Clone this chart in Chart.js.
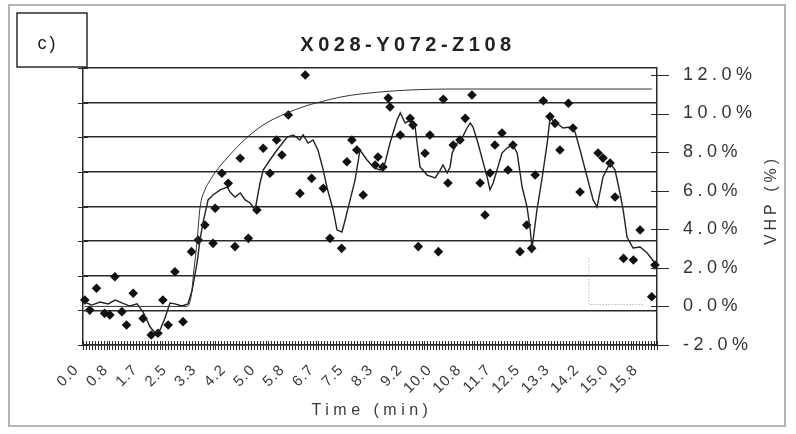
<!DOCTYPE html>
<html>
<head>
<meta charset="utf-8">
<script src="https://cdn.jsdelivr.net/npm/chart.js@4.4.1/dist/chart.umd.min.js"></script>
<style>
  html, body { margin: 0; padding: 0; background: #fff; }
  #wrap { position: relative; width: 796px; height: 434px; }
</style>
</head>
<body>
<div id="wrap"><canvas id="chart"></canvas></div>
<script>
// time axis: one category every 5 s, labels every 10th category
const SAMPLE_MIN = 5 / 60;
const SAMPLE_COUNT = 195;
const LABEL_EVERY = 10;
const xTickLabels = ['0.0','0.8','1.7','2.5','3.3','4.2','5.0','5.8','6.7','7.5',
  '8.3','9.2','10.0','10.8','11.7','12.5','13.3','14.2','15.0','15.8'];
const rightTickValues = [-2, 0, 2, 4, 6, 8, 10, 12];

// measured VHP (%) points [min, %]
const rawPoints = [
  [0.01,0.33],[0.15,-0.19],[0.34,0.94],[0.57,-0.36],[0.72,-0.44],[0.86,1.54],[1.06,-0.27],[1.19,-0.96],
  [1.38,0.68],[1.66,-0.62],[1.89,-1.48],[2.08,-1.39],[2.22,0.33],[2.37,-0.96],[2.56,1.80],[2.79,-0.79],
  [3.03,2.84],[3.22,3.44],[3.41,4.22],[3.64,3.27],[3.70,5.09],[3.89,6.90],[4.07,6.38],[4.26,3.10],
  [4.41,7.68],[4.64,3.53],[4.88,5.00],[5.06,8.20],[5.25,6.90],[5.44,8.63],[5.59,7.85],[5.77,9.92],
  [6.10,5.86],[6.25,12.0],[6.43,6.64],[6.76,6.12],[6.95,3.53],[7.28,3.01],[7.43,7.50],[7.57,8.63],
  [7.71,8.11],[7.89,5.78],[8.23,7.33],[8.31,7.75],[8.45,7.23],[8.60,10.80],[8.65,10.34],[8.94,8.89],
  [9.22,9.75],[9.30,9.40],[9.45,3.10],[9.64,7.94],[9.78,8.89],[10.02,2.84],[10.16,10.74],[10.29,6.40],
  [10.44,8.37],[10.63,8.63],[10.78,9.75],[10.97,10.96],[11.20,6.40],[11.34,4.74],[11.48,6.92],[11.62,8.37],
  [11.82,8.99],[11.99,7.07],[12.13,8.37],[12.33,2.84],[12.52,4.22],[12.66,3.01],[12.76,6.81],[12.99,10.66],
  [13.18,9.84],[13.32,9.49],[13.46,8.11],[13.70,10.53],[13.83,9.25],[14.03,5.93],[14.54,7.95],[14.68,7.69],
  [14.88,7.43],[15.02,5.67],[15.26,2.49],[15.54,2.41],[15.73,3.96],[16.06,0.50],[16.15,2.15]
];

// moving average line [min, %]
const movingAverage = [
  [0.00,0.23],[0.21,0.07],[0.44,0.23],[0.67,0.13],[0.87,0.33],[1.06,0.18],[1.29,0.02],[1.49,0.13],
  [1.66,-0.29],[1.86,-1.07],[2.00,-1.38],[2.14,-1.22],[2.28,-0.60],[2.42,0.18],[2.56,0.13],[2.76,0.02],
  [2.93,0.13],[3.05,0.85],[3.19,2.30],[3.27,3.44],[3.36,4.38],[3.50,5.52],[3.64,5.78],[3.84,6.04],
  [4.04,6.19],[4.12,5.93],[4.26,5.67],[4.41,5.88],[4.55,5.52],[4.69,5.36],[4.83,5.00],[4.97,6.40],
  [5.06,7.07],[5.25,7.59],[5.45,8.11],[5.74,8.78],[5.91,8.89],[6.10,8.63],[6.19,8.89],[6.33,8.47],
  [6.47,8.63],[6.61,8.11],[6.76,7.07],[6.87,6.14],[7.04,5.00],[7.15,3.96],[7.29,3.86],[7.38,4.48],
  [7.52,5.52],[7.66,6.55],[7.80,8.11],[8.00,7.59],[8.17,7.23],[8.37,7.07],[8.51,7.44],[8.65,8.47],
  [8.85,9.66],[8.94,10.03],[9.08,9.51],[9.22,9.66],[9.36,9.30],[9.44,8.11],[9.50,7.23],[9.70,6.81],
  [9.93,6.66],[10.07,7.07],[10.15,7.33],[10.27,6.92],[10.35,7.23],[10.41,7.95],[10.55,8.47],[10.69,8.73],
  [10.83,9.25],[10.92,9.51],[11.00,9.30],[11.14,8.47],[11.29,7.44],[11.40,6.71],[11.48,6.04],[11.57,6.40],
  [11.68,7.07],[11.82,7.95],[11.96,8.21],[12.13,8.37],[12.25,7.95],[12.39,6.19],[12.53,5.15],[12.62,3.96],
  [12.67,3.03],[12.81,5.00],[12.96,6.71],[13.10,8.47],[13.18,9.77],[13.32,9.56],[13.55,9.25],[13.75,9.30],
  [13.89,9.04],[14.03,8.11],[14.23,6.71],[14.40,5.52],[14.51,5.15],[14.68,6.71],[14.88,7.44],[15.02,7.07],
  [15.16,5.88],[15.25,5.00],[15.36,3.60],[15.53,3.03],[15.73,3.08],[15.93,2.77],[16.15,2.25]
];

// fitted response curve [min, %]
const fitCurve = [
  [0.00,0.0],[2.90,0.0],[3.02,0.52],[3.10,1.91],[3.19,3.44],[3.27,5.10],[3.41,6.04],[3.56,6.55],
  [3.75,7.07],[4.04,7.70],[4.32,8.26],[4.63,8.80],[4.97,9.30],[5.34,9.70],[5.74,10.03],[6.19,10.35],
  [6.67,10.60],[7.24,10.85],[7.80,11.01],[8.74,11.17],[9.50,11.24],[10.35,11.27],[16.06,11.27]
];

// faint dotted bracket near the end
const markerBracket = [[14.28,2.5],[14.28,0.1],[15.80,0.1]];

const toXY = arr => arr.map(([x, y]) => ({ x, y }));
const INK = '#2a2a2a';
const FONT = "'Liberation Sans', Arial, sans-serif";

const crossTicks = {
  id: 'crossTicks',
  // wide spacing for the right axis labels, tighter for the time labels (drawn later, z: 1)
  beforeDraw(chart) {
    chart.ctx.letterSpacing = '4.5px';
  },
  afterDatasetsDraw(chart) {
    chart.ctx.letterSpacing = '1px';
  },
  afterDraw(chart) {
    const { ctx, chartArea, scales: { x, y, yLeft } } = chart;
    ctx.save();
    ctx.strokeStyle = INK;
    ctx.lineWidth = 1;
    ctx.beginPath();
    for (let i = 0; i <= SAMPLE_COUNT; i++) {
      const px = Math.round(x.getPixelForValue((i - 0.5) * SAMPLE_MIN)) + 0.5;
      ctx.moveTo(px, chartArea.bottom - 4);
      ctx.lineTo(px, chartArea.bottom + 5);
    }
    for (const v of rightTickValues) {
      const py = Math.round(y.getPixelForValue(v)) + 0.5;
      ctx.moveTo(chartArea.right - 6, py);
      ctx.lineTo(chartArea.right + 12, py);
    }
    for (const t of yLeft.ticks) {
      const py = Math.round(yLeft.getPixelForValue(t.value)) + 0.5;
      ctx.moveTo(chartArea.left - 5, py);
      ctx.lineTo(chartArea.left + 5, py);
    }
    ctx.stroke();

    // outer frame and panel label box
    ctx.strokeStyle = '#b4b4b4';
    ctx.lineWidth = 2;
    ctx.strokeRect(9, 5, 776, 421);
    ctx.strokeStyle = INK;
    ctx.lineWidth = 1.5;
    ctx.strokeRect(17, 13, 70, 54);

    ctx.fillStyle = '#222';
    ctx.textBaseline = 'middle';
    ctx.textAlign = 'center';
    ctx.letterSpacing = '3px';
    ctx.font = `18px ${FONT}`;
    ctx.fillText('c)', 48, 44);

    ctx.letterSpacing = '4.5px';
    ctx.font = `bold 20px ${FONT}`;
    ctx.fillText('X028-Y072-Z108', 408, 45);

    ctx.fillStyle = '#3a3a3a';
    ctx.letterSpacing = '4.5px';
    ctx.font = `16px ${FONT}`;
    ctx.fillText('Time (min)', 372, 411);

    ctx.translate(772, 200);
    ctx.rotate(-Math.PI / 2);
    ctx.letterSpacing = '4px';
    ctx.font = `16px ${FONT}`;
    ctx.fillText('VHP (%)', 0, 0);
    ctx.restore();
  }
};

new Chart(document.getElementById('chart'), {
  type: 'line',
  data: {
    datasets: [
      {
        label: 'fit',
        data: toXY(fitCurve),
        borderColor: '#333',
        borderWidth: 1,
        pointRadius: 0,
        cubicInterpolationMode: 'monotone',
        yAxisID: 'y'
      },
      {
        label: 'moving average',
        data: toXY(movingAverage),
        borderColor: '#222',
        borderWidth: 1.4,
        pointRadius: 0,
        tension: 0,
        yAxisID: 'y'
      },
      {
        label: 'VHP',
        data: toXY(rawPoints),
        showLine: false,
        pointStyle: 'rectRot',
        pointRadius: 4.8,
        pointBackgroundColor: '#111',
        pointBorderColor: '#111',
        pointBorderWidth: 0,
        clip: false,
        yAxisID: 'y'
      },
      {
        label: 'bracket',
        data: toXY(markerBracket),
        borderColor: '#9a9a9a',
        borderWidth: 1,
        borderDash: [1, 2],
        pointRadius: 0,
        yAxisID: 'y'
      }
    ]
  },
  plugins: [crossTicks],
  options: {
    responsive: true,
    maintainAspectRatio: false,
    animation: false,
    layout: { padding: { top: 68, left: 0, right: 0, bottom: 0 } },
    plugins: {
      legend: { display: false },
      tooltip: { enabled: false },
      title: { display: false }
    },
    scales: {
      x: {
        type: 'linear',
        min: -0.5 * SAMPLE_MIN,
        max: (SAMPLE_COUNT - 0.5) * SAMPLE_MIN,
        afterBuildTicks: scale => {
          scale.ticks = xTickLabels.map((_, i) => ({ value: i * LABEL_EVERY * SAMPLE_MIN }));
        },
        afterFit: scale => { scale.height = 89; },
        grid: { display: true, drawOnChartArea: false, drawTicks: false },
        border: { display: true, color: INK, width: 1.5 },
        ticks: {
          z: 1,
          autoSkip: false,
          minRotation: 45,
          maxRotation: 45,
          padding: 16,
          labelOffset: -8,
          color: '#3a3a3a',
          font: { family: FONT, size: 15 },
          callback: (v, i) => xTickLabels[i]
        }
      },
      yLeft: {
        type: 'linear',
        position: 'left',
        min: 0,
        max: 8,
        afterFit: scale => { scale.width = 83; },
        grid: { color: INK, lineWidth: 1.6, drawTicks: false },
        border: { display: true, color: INK, width: 1.5 },
        ticks: { stepSize: 1, display: false }
      },
      y: {
        type: 'linear',
        position: 'right',
        min: -2,
        max: 12.36,
        afterBuildTicks: scale => {
          scale.ticks = rightTickValues.map(v => ({ value: v }));
        },
        afterFit: scale => { scale.width = 139; },
        grid: { drawOnChartArea: false, drawTicks: false },
        border: { display: true, color: INK, width: 1.5 },
        ticks: {
          padding: 26,
          color: '#333',
          font: { family: FONT, size: 18 },
          callback: v => v.toFixed(1) + '%'
        }
      }
    }
  }
});
</script>
</body>
</html>
